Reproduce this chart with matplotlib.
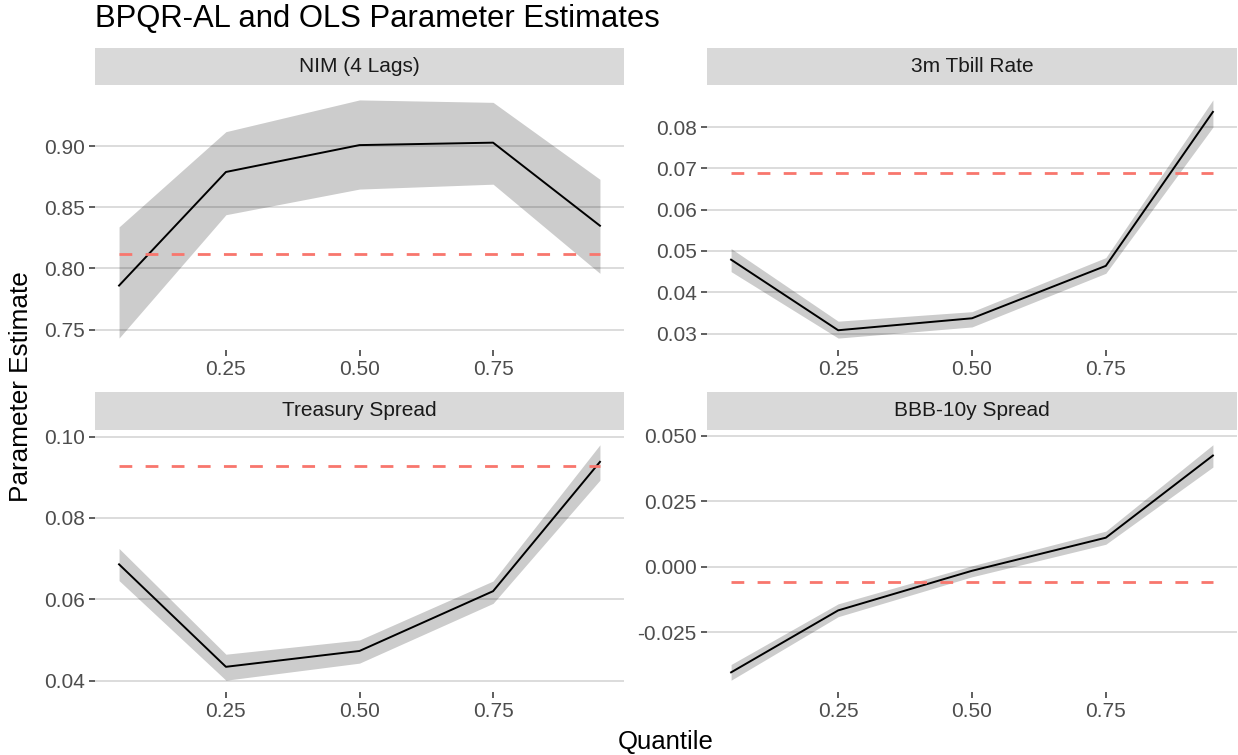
import matplotlib
matplotlib.use("Agg")
import matplotlib.pyplot as plt

plt.rcParams['font.family'] = ['Liberation Sans', 'DejaVu Sans']

quantiles = [0.05, 0.25, 0.50, 0.75, 0.95]
x_ticks = [0.25, 0.50, 0.75]
x_tick_labels = ["0.25", "0.50", "0.75"]

panel_titles = ["NIM (4 Lags)", "3m Tbill Rate", "Treasury Spread", "BBB-10y Spread"]

nim_est = [0.786, 0.879, 0.901, 0.903, 0.835]
nim_lo = [0.743, 0.844, 0.865, 0.869, 0.796]
nim_hi = [0.834, 0.912, 0.938, 0.936, 0.873]
nim_ols = 0.812

tbill_est = [0.0479, 0.0308, 0.0337, 0.0464, 0.0837]
tbill_lo = [0.0450, 0.0289, 0.0316, 0.0446, 0.0800]
tbill_hi = [0.0506, 0.0330, 0.0353, 0.0484, 0.0866]
tbill_ols = 0.0690

treas_est = [0.0686, 0.0434, 0.0473, 0.0620, 0.0938]
treas_lo = [0.0646, 0.0401, 0.0443, 0.0590, 0.0893]
treas_hi = [0.0725, 0.0465, 0.0500, 0.0645, 0.0980]
treas_ols = 0.0929

bbb_est = [-0.0402, -0.0166, -0.0015, 0.0111, 0.0424]
bbb_lo = [-0.0432, -0.0190, -0.0038, 0.0086, 0.0380]
bbb_hi = [-0.0372, -0.0141, 0.0004, 0.0136, 0.0465]
bbb_ols = -0.0059

nim_yticks = [0.75, 0.80, 0.85, 0.90]
nim_ylabels = ["0.75", "0.80", "0.85", "0.90"]
tbill_yticks = [0.03, 0.04, 0.05, 0.06, 0.07, 0.08]
tbill_ylabels = ["0.03", "0.04", "0.05", "0.06", "0.07", "0.08"]
treas_yticks = [0.04, 0.06, 0.08, 0.10]
treas_ylabels = ["0.04", "0.06", "0.08", "0.10"]
bbb_yticks = [-0.025, 0.000, 0.025, 0.050]
bbb_ylabels = ["-0.025", "0.000", "0.025", "0.050"]

W, H = 1238, 755
fig = plt.figure(figsize=(W / 100, H / 100), dpi=100)
fig.patch.set_facecolor("white")


def px_box(x0, y0, x1, y1):
    """Convert a pixel box (top-left origin) to figure fractions."""
    return [x0 / W, 1 - y1 / H, (x1 - x0) / W, (y1 - y0) / H]


cols = [(95, 624), (707, 1237)]
rows = [((48, 85), (88, 350)), ((392, 430), (433, 692))]

panels = [
    (nim_est, nim_lo, nim_hi, nim_ols, nim_yticks, nim_ylabels),
    (tbill_est, tbill_lo, tbill_hi, tbill_ols, tbill_yticks, tbill_ylabels),
    (treas_est, treas_lo, treas_hi, treas_ols, treas_yticks, treas_ylabels),
    (bbb_est, bbb_lo, bbb_hi, bbb_ols, bbb_yticks, bbb_ylabels),
]

for i, (est, lo, hi, ols, yt, yl) in enumerate(panels):
    r, c = divmod(i, 2)
    (sy0, sy1), (py0, py1) = rows[r]
    x0, x1 = cols[c]

    # facet strip
    sax = fig.add_axes(px_box(x0, sy0, x1, sy1))
    sax.set_facecolor("#d9d9d9")
    sax.set_xticks([])
    sax.set_yticks([])
    for s in sax.spines.values():
        s.set_visible(False)
    sax.text(0.5, 0.5, panel_titles[i], ha="center", va="center",
             fontsize=15, color="#1a1a1a", transform=sax.transAxes)

    # panel
    ax = fig.add_axes(px_box(x0, py0, x1, py1))
    ax.set_facecolor("white")
    ax.fill_between(quantiles, lo, hi, color="black", alpha=0.2,
                    linewidth=0, zorder=2)
    ax.plot(quantiles, est, color="black", lw=1.4, zorder=3)
    ax.plot(quantiles, [ols] * len(quantiles), color="#f8766d", lw=2.0,
            dashes=(4.6, 4.8), zorder=4)
    ax.margins(x=0.05, y=0.05)

    ax.set_yticks(yt)
    ax.set_yticklabels(yl)
    ax.set_xticks(x_ticks)
    ax.set_xticklabels(x_tick_labels)
    ax.yaxis.grid(True, color="#d6d6d6", lw=1.2, zorder=1)
    ax.xaxis.grid(False)
    ax.set_axisbelow(True)
    for s in ax.spines.values():
        s.set_visible(False)
    ax.tick_params(axis="both", length=4.5, width=1.1, color="#333333",
                   labelcolor="#4d4d4d", labelsize=15, pad=3)

fig.text(95 / W, 1 - 19 / H, "BPQR-AL and OLS Parameter Estimates",
         ha="left", va="center", fontsize=22.3, color="black")
fig.text(666 / W, 1 - 742 / H, "Quantile", ha="center", va="center",
         fontsize=18.5, color="black")
fig.text(21 / W, 1 - 387 / H, "Parameter Estimate", ha="center",
         va="center", rotation=90, fontsize=18.8, color="black")

fig.savefig("out.png", dpi=100, facecolor="white")
